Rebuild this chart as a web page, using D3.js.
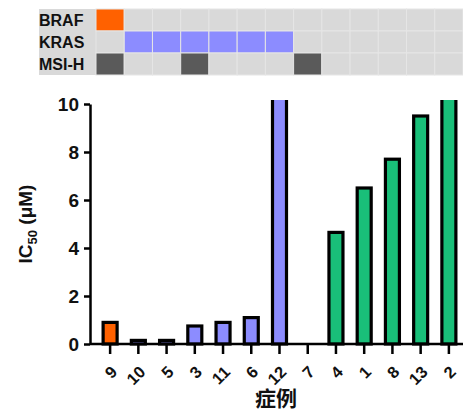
<!DOCTYPE html>
<html>
<head>
<meta charset="utf-8">
<script src="https://cdn.jsdelivr.net/npm/d3@7"></script>
<style>
  body { margin: 0; background: #fff; }
  text { font-family: "Liberation Sans", Arial, sans-serif; font-weight: bold; }
</style>
</head>
<body>
<svg id="canvas" width="463" height="411"></svg>
<script>
const cases = ["9", "10", "5", "3", "11", "6", "12", "7", "4", "1", "8", "13", "2"];
const ic50 = [0.9, 0.15, 0.15, 0.75, 0.9, 1.1, 12, 0, 4.65, 6.5, 7.7, 9.5, 12];
const groups = ["BRAF", "KRAS", "KRAS", "KRAS", "KRAS", "KRAS", "KRAS", "none", "none", "none", "none", "none", "none"];
const mutations = ["BRAF", "KRAS", "MSI-H"];
const brafCases = ["9"];
const krasCases = ["10", "5", "3", "11", "6", "12"];
const msiCases = ["9", "3", "7"];
const yTicks = [0, 2, 4, 6, 8, 10];

const colors = { BRAF: "#ff6100", KRAS: "#8c8cff", "MSI-H": "#5a5a5a", none: "#19bf79" };

const svg = d3.select("#canvas");

const x = d3.scaleBand().domain(cases).range([96, 463]).padding(0);
const y = d3.scaleLinear().domain([0, 10]).range([344, 104]);

// heatmap
const rowY = d3.scaleBand().domain(mutations).range([9, 75]);
const hm = svg.append("g");
hm.append("rect")
  .attr("x", 39).attr("y", 9).attr("width", 424).attr("height", 66)
  .attr("fill", "#d9d9d9");

const hits = { BRAF: brafCases, KRAS: krasCases, "MSI-H": msiCases };
mutations.forEach((m) => {
  hm.selectAll(null)
    .data(cases)
    .enter()
    .append("rect")
    .attr("x", (d) => x(d))
    .attr("y", rowY(m))
    .attr("width", x.bandwidth())
    .attr("height", rowY.bandwidth())
    .attr("fill", (d) => (hits[m].includes(d) ? colors[m] : "#d9d9d9"))
    .attr("stroke", "#e6e6e6")
    .attr("stroke-width", 1);
  hm.append("text")
    .attr("x", 39)
    .attr("y", rowY(m) + rowY.bandwidth() / 2 + 6)
    .attr("font-size", 16)
    .attr("fill", "#111")
    .text(m);
});

// bars
svg.append("clipPath").attr("id", "clip")
  .append("rect").attr("x", 90).attr("y", 100).attr("width", 373).attr("height", 250);

const bw = 14;
svg.append("g")
  .attr("clip-path", "url(#clip)")
  .selectAll("rect")
  .data(cases)
  .enter()
  .append("rect")
  .attr("x", (d) => x(d) + x.bandwidth() / 2 - bw / 2)
  .attr("y", (d, i) => y(Math.min(ic50[i], 10.6)))
  .attr("width", bw)
  .attr("height", (d, i) => y(0) - y(Math.min(ic50[i], 10.6)))
  .attr("fill", (d, i) => colors[groups[i]])
  .attr("stroke", "#000")
  .attr("stroke-width", 3.2)
  .style("display", (d, i) => (ic50[i] > 0 ? null : "none"));

// y axis
const yAxis = svg.append("g")
  .attr("transform", "translate(90,0)")
  .call(d3.axisLeft(y).tickValues(yTicks).tickSize(6).tickSizeOuter(0));
yAxis.select(".domain").attr("stroke", "#000").attr("stroke-width", 2.5);
yAxis.selectAll(".tick line").attr("stroke-width", 2.5);
yAxis.selectAll(".tick text")
  .attr("font-size", 19)
  .attr("font-family", "Liberation Sans, Arial, sans-serif")
  .attr("font-weight", "bold")
  .attr("fill", "#111")
  .attr("x", -11)
  .attr("dy", "0.36em");

// x axis
const xAxis = svg.append("g")
  .attr("transform", "translate(0,344)")
  .call(d3.axisBottom(x).tickSize(10).tickSizeOuter(0));
xAxis.select(".domain").attr("d", "M90,0H463").attr("stroke", "#000").attr("stroke-width", 2.5);
xAxis.selectAll(".tick line").attr("stroke-width", 2.5);
xAxis.selectAll(".tick text")
  .attr("font-size", 16.5)
  .attr("font-family", "Liberation Sans, Arial, sans-serif")
  .attr("font-weight", "bold")
  .attr("fill", "#111")
  .attr("text-anchor", "end")
  .attr("transform", "translate(4,25) rotate(-45)")
  .attr("y", 0)
  .attr("dy", "0.35em");

// axis titles
const yt = svg.append("text")
  .attr("transform", "translate(32,224) rotate(-90)")
  .attr("text-anchor", "middle")
  .attr("font-size", 19)
  .attr("fill", "#111");
yt.append("tspan").text("IC");
yt.append("tspan").attr("font-size", 13).attr("dy", 5).text("50");
yt.append("tspan").attr("dy", -5).text(" (μM)");

svg.append("text")
  .attr("x", 276)
  .attr("y", 406)
  .attr("text-anchor", "middle")
  .attr("font-size", 21)
  .attr("fill", "#111")
  .style("font-family", "'Noto Sans CJK SC', sans-serif")
  .text("症例");
</script>
</body>
</html>
